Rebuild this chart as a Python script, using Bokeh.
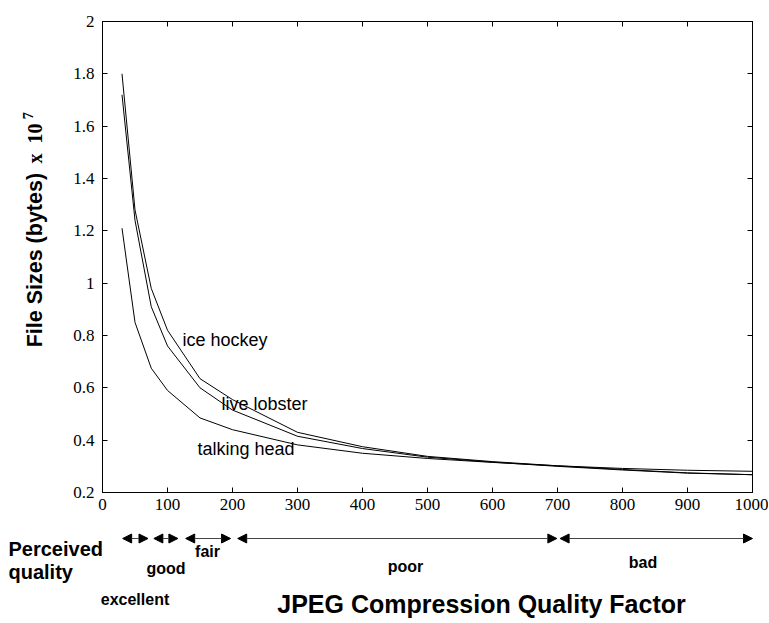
import math
from bokeh.plotting import figure
from bokeh.layouts import column, row
from bokeh.models import (LinearAxis, Range1d, Arrow, NormalHead,
                          FixedTicker, CustomJSTickFormatter)
from bokeh.embed import file_html
from bokeh.resources import INLINE
from bokeh.core.properties import value

# ---------------- data ----------------
quality = [30, 50, 75, 100, 150, 200, 300, 400, 500, 600, 700, 800, 900, 1000]
ice_hockey = [1.80, 1.28, 0.98, 0.82, 0.635, 0.555, 0.43, 0.375, 0.338, 0.318, 0.302, 0.288, 0.275, 0.268]
live_lobster = [1.72, 1.24, 0.91, 0.76, 0.600, 0.515, 0.415, 0.368, 0.335, 0.316, 0.300, 0.286, 0.274, 0.268]
talking_head = [1.21, 0.85, 0.675, 0.59, 0.485, 0.440, 0.382, 0.350, 0.330, 0.315, 0.302, 0.292, 0.285, 0.281]

series_names = ["ice hockey", "live lobster", "talking head"]

x_ticks = [0, 100, 200, 300, 400, 500, 600, 700, 800, 900, 1000]
y_ticks = [0.2, 0.4, 0.6, 0.8, 1, 1.2, 1.4, 1.6, 1.8, 2]

quality_classes = ["excellent", "good", "fair", "poor", "bad"]
class_start = [31, 79, 128, 208, 704]
class_end = [70, 116, 197, 699, 1000]

# ---------------- layout (page px) ----------------
W, H = 768, 622
LW = 70                    # width of left title strip
TOP_H = 525                # height of the main plot row
FL, FT, FW, FH = 102, 21, 650, 471
SERIF = "Liberation Serif"
SANS = "Liberation Sans"


def dx(px):
    return (px - FL) / FW * 1000.0


def dy(py):
    return 2.0 - (py - FT) / FH * 1.8


def mid(baseline, size):
    # position of the em-box middle for a given alphabetic baseline
    return baseline - 0.3465 * size


def strip(width, height, xr, yr):
    f = figure(width=width, height=height, output_backend="svg", toolbar_location=None,
               x_range=xr, y_range=yr, x_axis_location=None, y_axis_location=None,
               min_border=0, min_border_left=0, min_border_right=0,
               min_border_top=0, min_border_bottom=0)
    f.xgrid.visible = False
    f.ygrid.visible = False
    f.outline_line_color = None
    f.background_fill_color = "white"
    f.border_fill_color = "white"
    return f


# ---------------- main plot ----------------
p = figure(width=W - LW, height=TOP_H, output_backend="svg", toolbar_location=None,
           x_range=Range1d(0, 1000), y_range=Range1d(0.2, 2.0),
           min_border_left=FL - LW, min_border_top=FT,
           min_border_right=W - FL - FW, min_border_bottom=TOP_H - FT - FH)
p.xgrid.visible = False
p.ygrid.visible = False
p.outline_line_color = "black"
p.background_fill_color = "white"
p.border_fill_color = "white"

fmt = CustomJSTickFormatter(code="return String(Math.round(tick*10)/10);")
for ax in (p.xaxis[0], p.yaxis[0]):
    ax.major_tick_in = 5
    ax.major_tick_out = 0
    ax.minor_tick_line_color = None
    ax.axis_line_color = "black"
    ax.major_tick_line_color = "black"
    ax.major_label_text_font = SERIF
    ax.major_label_text_font_size = "17px"
    ax.major_label_text_color = "black"
p.xaxis[0].ticker = FixedTicker(ticks=x_ticks)
p.yaxis[0].ticker = FixedTicker(ticks=y_ticks)
p.yaxis[0].formatter = fmt
p.xaxis[0].major_label_standoff = 6
p.yaxis[0].major_label_standoff = 8

for loc, ticks in (("right", y_ticks), ("above", x_ticks)):
    ax = LinearAxis(ticker=FixedTicker(ticks=ticks))
    ax.major_tick_in = 5
    ax.major_tick_out = 0
    ax.minor_tick_line_color = None
    ax.major_label_text_font_size = "0px"
    ax.major_label_standoff = 0
    ax.axis_line_color = "black"
    p.add_layout(ax, loc)

for ys in (ice_hockey, live_lobster, talking_head):
    p.line(quality, ys, line_color="black", line_width=1)

curve_label_px = [(182, 346), (221, 410), (197, 455)]
p.text(x=[dx(a) for a, _ in curve_label_px], y=[dy(mid(b, 18)) for _, b in curve_label_px],
       text=series_names, text_font=value(SANS), text_font_size="18px",
       text_color="black", text_align="left", text_baseline="middle")

# ---------------- left strip: y title ----------------
left = strip(LW, TOP_H, Range1d(0, LW), Range1d(TOP_H, 0))
left.text(x=[mid(42, 21.5)], y=[266], text=["File Sizes (bytes)"], angle=math.pi / 2,
          text_font=value(SANS), text_font_style="bold", text_font_size="21.5px",
          text_color="black", text_align="center", text_baseline="middle")
left.text(x=[mid(41, 20)], y=[136], text=["x\u00a0\u00a010"], angle=math.pi / 2,
          text_font=value(SERIF), text_font_style="bold", text_font_size="20px",
          text_color="black", text_align="center", text_baseline="middle")
left.text(x=[mid(32, 14)], y=[105], text=["7"], angle=math.pi / 2,
          text_font=value(SERIF), text_font_style="bold", text_font_size="14px",
          text_color="black", text_align="center", text_baseline="middle")

# ---------------- bottom strip: quality classes + x title ----------------
bottom = strip(W, H - TOP_H, Range1d(dx(0), dx(W)), Range1d(H, TOP_H))
arrow_y = 538
for s, e in zip(class_start, class_end):
    bottom.add_layout(Arrow(x_start=s, y_start=arrow_y, x_end=e, y_end=arrow_y,
                            line_color="#444444", line_width=1,
                            start=NormalHead(size=9, fill_color="black", line_color="black", line_width=1),
                            end=NormalHead(size=9, fill_color="black", line_color="black", line_width=1)))

class_label_px = [(134.5, 605), (165.5, 574), (207, 557), (405, 572), (642.5, 568)]
bottom.text(x=[dx(a) for a, _ in class_label_px], y=[mid(b, 16) for _, b in class_label_px],
            text=quality_classes, text_font=value(SANS), text_font_style="bold",
            text_font_size="16px", text_color="black", text_align="center",
            text_baseline="middle")
bottom.text(x=[dx(8), dx(8)], y=[mid(555, 20), mid(578, 20)], text=["Perceived", "quality"],
            text_font=value(SANS), text_font_style="bold", text_font_size="20px",
            text_color="black", text_align="left", text_baseline="middle")
bottom.text(x=[dx(481)], y=[mid(612, 25)], text=["JPEG Compression Quality Factor"],
            text_font=value(SANS), text_font_style="bold", text_font_size="25px",
            text_color="black", text_align="center", text_baseline="middle")

layout = column(row(left, p, spacing=0), bottom, spacing=0)
open("out.html", "w").write(file_html(layout, INLINE))
